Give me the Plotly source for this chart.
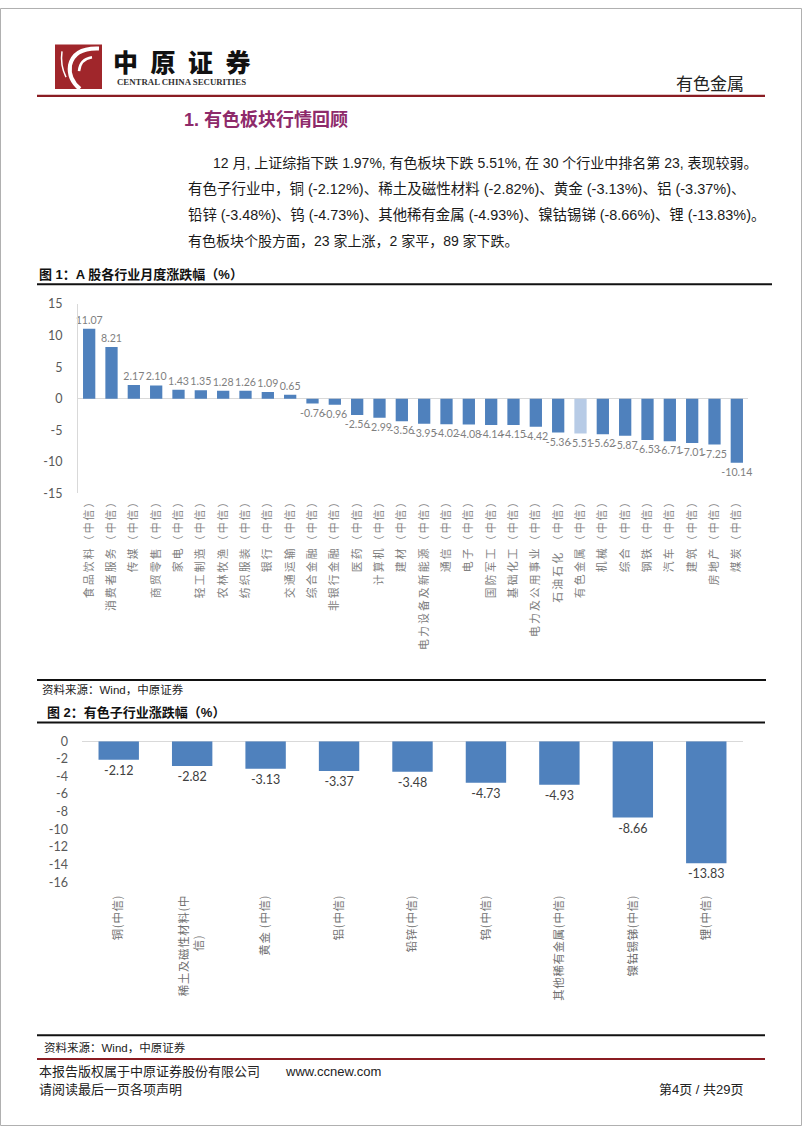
import plotly.graph_objects as go

# ---------------- data ----------------
industries = ["食品饮料（中信）", "消费者服务（中信）", "传媒（中信）", "商贸零售（中信）", "家电（中信）",
              "轻工制造（中信）", "农林牧渔（中信）", "纺织服装（中信）", "银行（中信）", "交通运输（中信）",
              "综合金融（中信）", "非银行金融（中信）", "医药（中信）", "计算机（中信）", "建材（中信）",
              "电力设备及新能源（中信）", "通信（中信）", "电子（中信）", "国防军工（中信）", "基础化工（中信）",
              "电力及公用事业（中信）", "石油石化 （中信）", "有色金属（中信）", "机械（中信）", "综合（中信）",
              "钢铁（中信）", "汽车（中信）", "建筑（中信）", "房地产（中信）", "煤炭（中信）"]
industry_change = [11.07, 8.21, 2.17, 2.10, 1.43, 1.35, 1.28, 1.26, 1.09, 0.65,
                   -0.76, -0.96, -2.56, -2.99, -3.56, -3.95, -4.02, -4.08, -4.14, -4.15,
                   -4.42, -5.36, -5.51, -5.62, -5.87, -6.53, -6.71, -7.01, -7.25, -10.14]
highlight_industry = "有色金属（中信）"
y1_ticks = [15, 10, 5, 0, -5, -10, -15]

sub_industries = ["铜(中信)", "稀土及磁性材料(中信)", "黄金 (中信)", "铝(中信)", "铅锌(中信)",
                  "钨(中信)", "其他稀有金属(中信)", "镍钴锡锑(中信)", "锂(中信)"]
sub_label_lines = [["铜(中信)"], ["稀土及磁性材料(中", "信)"], ["黄金 (中信)"], ["铝(中信)"], ["铅锌(中信)"],
                   ["钨(中信)"], ["其他稀有金属(中信)"], ["镍钴锡锑(中信)"], ["锂(中信)"]]
sub_change = [-2.12, -2.82, -3.13, -3.37, -3.48, -4.73, -4.93, -8.66, -13.83]
y2_ticks = [0, -2, -4, -6, -8, -10, -12, -14, -16]

# ---------------- helpers ----------------
W, H = 802, 1133
def X(p):
    return p / W
def Y(p):
    return 1 - p / H

CJK = "Noto Sans CJK SC"
MIX = "Liberation Sans, Noto Sans CJK SC"
NUM = "Lato, Liberation Sans"
BLUE = "#4f81bd"
LIGHT = "#b7cbe6"
HAIR = "\u200a"

def spaced(s, sep):
    return sep.join(s)

sub_tick_text = []
for lines in sub_label_lines:
    if len(lines) == 1:
        sub_tick_text.append(spaced(lines[0], HAIR))
    else:
        pad = "\u3000" * 3 + "\u2002"
        sub_tick_text.append(spaced(lines[0], HAIR) + "<br>" + spaced(lines[1], HAIR) + pad)

fig = go.Figure()

fig.add_trace(go.Bar(
    x=industries, y=industry_change, xaxis="x", yaxis="y",
    marker=dict(color=[LIGHT if c == highlight_industry else BLUE for c in industries], line=dict(width=0)),
    text=[f"{v:.2f}" for v in industry_change], textposition="outside",
    textfont=dict(family=NUM, size=10.6, color="#7f7f7f"),
    constraintext="none", cliponaxis=False, hoverinfo="skip",
))
fig.add_trace(go.Bar(
    x=sub_industries, y=sub_change, xaxis="x2", yaxis="y2",
    marker=dict(color=BLUE, line=dict(width=0)),
    text=[f"{v:.2f}" for v in sub_change], textposition="outside",
    textfont=dict(family=NUM, size=12.5, color="#404040"),
    constraintext="none", cliponaxis=False, hoverinfo="skip",
))

shapes = []
annotations = []

def line(x0, y0, x1, y1, color, width):
    shapes.append(dict(type="line", xref="paper", yref="paper", x0=X(x0), y0=Y(y0), x1=X(x1), y1=Y(y1),
                       line=dict(color=color, width=width)))

def text(x, y, s, size, color="#1a1a1a", family=MIX, xanchor="left", weight=None):
    f = dict(family=family, size=size, color=color)
    if weight:
        f["weight"] = weight
    annotations.append(dict(xref="paper", yref="paper", x=X(x), y=Y(y), text=s, showarrow=False,
                            xanchor=xanchor, yanchor="middle", font=f))

# page border
shapes.append(dict(type="rect", xref="paper", yref="paper", x0=X(0.5), y0=Y(0.5), x1=X(801.5), y1=Y(1132.5),
                   line=dict(color="#b0b0b0", width=1)))

# logo
shapes.append(dict(type="rect", xref="paper", yref="paper", x0=X(55), y0=Y(37), x1=X(102), y1=Y(82),
                   fillcolor="#a0262b", line=dict(width=0)))
def pth(pts):
    s = "M {} {}".format(X(pts[0][0]), Y(pts[0][1]))
    for i in range(1, len(pts), 2):
        s += " Q {} {} {} {}".format(X(pts[i][0]), Y(pts[i][1]), X(pts[i+1][0]), Y(pts[i+1][1]))
    return s
shapes.append(dict(type="path", xref="paper", yref="paper",
                   path=pth([(99, 41), (74, 40), (70, 58), (68, 72), (80, 82)]),
                   line=dict(color="white", width=4)))
shapes.append(dict(type="path", xref="paper", yref="paper",
                   path=pth([(92, 50), (80, 52), (79, 64)]),
                   line=dict(color="white", width=2.5)))
shapes.append(dict(type="path", xref="paper", yref="paper",
                   path=pth([(62, 44), (60, 58), (66, 70)]),
                   line=dict(color="white", width=1.5)))

text(111, 54, "中\u2002原\u2002证\u2002券", 25, color="#111111", family=CJK, weight=900)
text(115, 74.5, "CENTRAL CHINA SECURITIES", 8.8, color="#333333", family="Liberation Serif", weight="bold")
text(746, 75, "有色金属", 17, color="#222222", family=CJK, xanchor="right")
line(37, 89, 765, 89, "#8a1c22", 2.2)

# section title & paragraph
text(182, 113, "1. 有色板块行情回顾", 18, color="#8e2a6a", family=MIX, weight="bold")
text(211, 157, "12 月, 上证综指下跌 1.97%, 有色板块下跌 5.51%, 在 30 个行业中排名第 23, 表现较弱。", 14)
text(186, 183, "有色子行业中，铜 (-2.12%)、稀土及磁性材料 (-2.82%)、黄金 (-3.13%)、铝 (-3.37%)、", 14.5)
text(186, 210, "铅锌 (-3.48%)、钨 (-4.73%)、其他稀有金属 (-4.93%)、镍钴锡锑 (-8.66%)、锂 (-13.83%)。", 14.4)
text(186, 236, "有色板块个股方面，23 家上涨，2 家平，89 家下跌。", 14)

# figure 1 frame
text(37, 270, "图 1：A 股各行业月度涨跌幅（%）", 13, color="#111111", weight="bold")
line(37, 280, 772, 280, "#111111", 2)
line(37, 681, 766, 681, "#111111", 2)
text(40, 691, "资料来源：Wind，中原证券", 11.5, color="#222222")

# figure 2 frame
text(45, 714, "图 2：有色子行业涨跌幅（%）", 13, color="#111111", weight="bold")
line(37, 724, 765, 724, "#111111", 2)
line(37, 1041, 765, 1041, "#111111", 2)
text(42, 1053, "资料来源：Wind，中原证券", 11.5, color="#222222")
line(37, 1065, 765, 1065, "#8a1c22", 2)

# footer
text(37, 1078, "本报告版权属于中原证券股份有限公司", 13, color="#222222")
text(283, 1078, "www.ccnew.com", 13, color="#222222")
text(37, 1096, "请阅读最后一页各项声明", 13, color="#222222")
text(746, 1096, "第4页 / 共29页", 13, color="#222222", xanchor="right")

fig.update_layout(
    width=W, height=H, margin=dict(l=0, r=0, t=0, b=0),
    paper_bgcolor="white", plot_bgcolor="white", showlegend=False,
    bargap=0.45,
    shapes=shapes, annotations=annotations,
    xaxis=dict(domain=[X(78), X(748)], anchor="y", type="category", range=[-0.5, 29.5],
               tickmode="array", tickvals=industries, ticktext=[spaced(c, "\u2009") for c in industries],
               tickangle=-90,
               tickfont=dict(family=CJK, size=10.8, color="#808080"), ticklabelstandoff=0,
               showgrid=False, showline=False, zeroline=False, ticks=""),
    yaxis=dict(domain=[Y(492), Y(300)], anchor="x", range=[-15, 15],
               tickmode="array", tickvals=y1_ticks, ticktext=[str(v) for v in y1_ticks],
               tickfont=dict(family=NUM, size=12.5, color="#595959"), ticklabelstandoff=12,
               showgrid=False, zeroline=True, zerolinecolor="#d9d9d9", zerolinewidth=1,
               showline=True, linecolor="#d9d9d9", linewidth=1, ticks=""),
    xaxis2=dict(domain=[X(82), X(743)], anchor="y2", type="category", range=[-0.5, 8.5],
                tickmode="array", tickvals=sub_industries, ticktext=sub_tick_text, tickangle=-90,
                tickfont=dict(family=CJK, size=11.4, color="#707070"), ticklabelstandoff=10,
                showgrid=False, showline=False, zeroline=False, ticks=""),
    yaxis2=dict(domain=[Y(886), Y(743)], anchor="x2", range=[-16, 0],
                tickmode="array", tickvals=y2_ticks, ticktext=[str(v) for v in y2_ticks],
                tickfont=dict(family=NUM, size=12.5, color="#595959"), ticklabelstandoff=13,
                showgrid=False, zeroline=True, zerolinecolor="#d9d9d9", zerolinewidth=1,
                showline=False, ticks=""),
)

fig.write_html("out.html", config={"displayModeBar": False},
               post_script="document.body.style.margin='0';document.body.style.overflow='hidden';")
